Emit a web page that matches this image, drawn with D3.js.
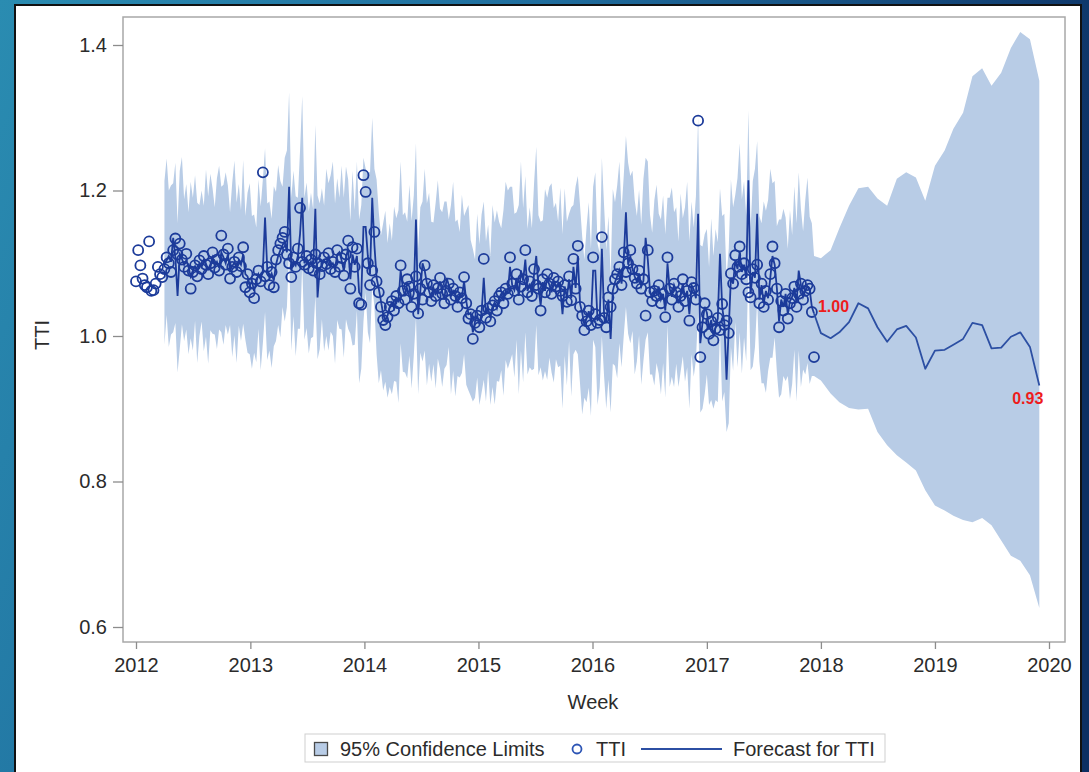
<!DOCTYPE html>
<html>
<head>
<meta charset="UTF-8" />
<title>TTI forecast</title>
<script src="https://d3js.org/d3.v7.min.js"></script>
<style>
  body { margin: 0; overflow: hidden; }
  text { font-family: "Liberation Sans", Arial, sans-serif; }
</style>
</head>
<body>
<div id="chart"></div>
<script>
// weekly TTI observations, first week of 2012 onwards
var tti = [
  1.075, 1.118, 1.097, 1.079, 1.070, 1.067, 1.130, 1.062, 1.063, 1.072,
  1.095, 1.085, 1.081, 1.092, 1.108, 1.100, 1.088, 1.118, 1.134, 1.112,
  1.127, 1.105, 1.095, 1.113, 1.090, 1.065, 1.088, 1.097, 1.082, 1.104,
  1.092, 1.110, 1.098, 1.085, 1.100, 1.115, 1.094, 1.105, 1.090, 1.138,
  1.112, 1.098, 1.120, 1.079, 1.095, 1.102, 1.088, 1.108, 1.096, 1.122,
  1.067, 1.085, 1.060, 1.072, 1.052, 1.078, 1.090, 1.075, 1.225, 1.082,
  1.095, 1.070, 1.088, 1.067, 1.105, 1.118, 1.127, 1.135, 1.143, 1.112,
  1.100, 1.081, 1.108, 1.095, 1.120, 1.176, 1.102, 1.098, 1.110, 1.093,
  1.105, 1.090, 1.112, 1.100, 1.085, 1.096, 1.108, 1.099, 1.114, 1.092,
  1.102, 1.088, 1.118, 1.095, 1.107, 1.083, 1.112, 1.131, 1.065, 1.122,
  1.095, 1.120, 1.045, 1.043, 1.221, 1.198, 1.100, 1.070, 1.090, 1.143,
  1.075, 1.060, 1.040, 1.022, 1.015, 1.026, 1.040, 1.048, 1.035, 1.055,
  1.045, 1.097, 1.062, 1.050, 1.078, 1.068, 1.040, 1.058, 1.082, 1.031,
  1.065, 1.050, 1.097, 1.072, 1.060, 1.048, 1.070, 1.055, 1.066, 1.080,
  1.058, 1.045, 1.062, 1.072, 1.050, 1.065, 1.055, 1.040, 1.060, 1.052,
  1.081, 1.045, 1.024, 1.030, 0.996, 1.018, 1.028, 1.012, 1.035, 1.106,
  1.025, 1.038, 1.020, 1.042, 1.048, 1.035, 1.055, 1.060, 1.045, 1.065,
  1.058, 1.108, 1.072, 1.062, 1.085, 1.050, 1.068, 1.078, 1.118, 1.060,
  1.075, 1.055, 1.092, 1.070, 1.065, 1.035, 1.078, 1.060, 1.085, 1.072,
  1.058, 1.080, 1.068, 1.075, 1.062, 1.055, 1.070, 1.047, 1.082, 1.049,
  1.106, 1.065, 1.124, 1.040, 1.028, 1.008, 1.020, 1.035, 1.015, 1.108,
  1.030, 1.018, 1.022, 1.136, 1.025, 1.012, 1.053, 1.040, 1.065, 1.078,
  1.085, 1.095, 1.070, 1.115, 1.088, 1.100, 1.118, 1.092, 1.080, 1.072,
  1.090, 1.065, 1.078, 1.028, 1.118, 1.060, 1.048, 1.062, 1.055, 1.070,
  1.045, 1.058, 1.026, 1.108, 1.065, 1.050, 1.072, 1.060, 1.040, 1.055,
  1.078, 1.048, 1.062, 1.021, 1.074, 1.066, 1.050, 1.296, 0.971, 1.012,
  1.045, 1.030, 1.003, 1.020, 0.994, 1.010, 1.025, 1.008, 1.044, 1.015,
  1.021, 1.004, 1.086, 1.072, 1.111, 1.095, 1.123, 1.085, 1.100, 1.078,
  1.060, 1.053, 1.092, 1.080, 1.098, 1.045, 1.072, 1.040, 1.062, 1.050,
  1.085, 1.123, 1.100, 1.065, 1.012, 1.048, 1.035, 1.058, 1.024, 1.045,
  1.052, 1.068, 1.040, 1.058, 1.072, 1.050, 1.062, 1.070, 1.065, 1.033, 0.971
];

// one-step-ahead predictions and 95% limits, from week 13 onwards
var bandStart = 13;
var pred = [
  1.098, 1.104, 1.110, 1.102, 1.135, 1.108, 1.055,
  1.112, 1.106, 1.098, 1.104, 1.095, 1.082, 1.090, 1.096, 1.088, 1.100,
  1.095, 1.104, 1.099, 1.092, 1.098, 1.108, 1.097, 1.102, 1.094, 1.115,
  1.108, 1.100, 1.112, 1.090, 1.096, 1.101, 1.093, 1.104, 1.098, 1.112,
  1.085, 1.082, 1.070, 1.075, 1.062, 1.074, 1.085, 1.078, 1.090, 1.163,
  1.092, 1.080, 1.086, 1.076, 1.098, 1.110, 1.118, 1.125, 1.130, 1.115,
  1.205, 1.090, 1.102, 1.097, 1.110, 1.140, 1.190, 1.100, 1.106, 1.096,
  1.102, 1.094, 1.175, 1.053, 1.092, 1.098, 1.104, 1.100, 1.110, 1.096,
  1.100, 1.092, 1.112, 1.115, 1.104, 1.090, 1.108, 1.120, 1.078, 1.112,
  1.098, 1.110, 1.060, 1.055, 1.150, 1.150, 1.110, 1.085, 1.190, 1.125,
  1.080, 1.065, 1.048, 1.030, 1.022, 1.028, 1.040, 1.046, 1.038, 1.052,
  1.048, 1.090, 1.066, 1.055, 1.072, 1.068, 1.048, 1.058, 1.160, 1.030,
  1.062, 1.100, 1.090, 1.072, 1.062, 1.052, 1.066, 1.058, 1.064, 1.075,
  1.060, 1.050, 1.080, 1.070, 1.055, 1.062, 1.057, 1.045, 1.058, 1.054,
  1.075, 1.048, 1.030, 1.032, 1.005, 1.020, 1.028, 1.016, 1.032, 1.080,
  1.030, 1.038, 1.025, 1.040, 1.046, 1.038, 1.052, 1.058, 1.048, 1.062,
  1.060, 1.095, 1.070, 1.063, 1.080, 1.055, 1.090, 1.076, 1.105, 1.062,
  1.072, 1.058, 1.085, 1.110, 1.066, 1.042, 1.074, 1.062, 1.080, 1.070,
  1.060, 1.076, 1.068, 1.072, 1.064, 1.030, 1.068, 1.052, 1.078, 1.052,
  1.095, 1.066, 1.110, 1.045, 1.032, 1.015, 1.024, 1.034, 1.020, 1.090,
  1.090, 1.022, 1.024, 1.120, 1.030, 1.018, 1.050, 0.996, 1.062, 1.074,
  1.082, 1.090, 1.072, 1.105, 1.170, 1.098, 1.110, 1.092, 1.082, 1.075,
  1.086, 1.068, 1.076, 1.135, 1.105, 1.062, 1.052, 1.062, 1.058, 1.068,
  1.050, 1.058, 1.035, 1.100, 1.065, 1.054, 1.070, 1.062, 1.045, 1.056,
  1.072, 1.052, 1.062, 1.030, 1.070, 1.064, 1.052, 1.168, 0.990, 1.018,
  1.040, 1.032, 1.010, 1.022, 1.000, 1.012, 1.024, 1.113, 1.040, 1.018,
  0.940, 1.010, 1.080, 1.072, 1.104, 1.092, 1.115, 1.088, 1.098, 1.080,
  1.214, 1.058, 1.088, 1.080, 1.168, 1.050, 1.070, 1.045, 1.062, 1.052,
  1.080, 1.110, 1.098, 1.066, 1.020, 1.050, 1.040, 1.058, 1.030, 1.048,
  1.054, 1.066, 1.045, 1.090, 1.070, 1.054, 1.062, 1.068, 1.064, 1.040, 1.031
];
var upper = [
  1.213, 1.244, 1.200, 1.207, 1.210, 1.238, 1.155,
  1.227, 1.246, 1.188, 1.209, 1.170, 1.212, 1.190, 1.221, 1.183, 1.180,
  1.200, 1.179, 1.229, 1.192, 1.223, 1.203, 1.177, 1.217, 1.234, 1.205,
  1.208, 1.225, 1.207, 1.170, 1.211, 1.241, 1.183, 1.209, 1.173, 1.242,
  1.165, 1.197, 1.210, 1.165, 1.167, 1.149, 1.215, 1.178, 1.215, 1.258,
  1.182, 1.185, 1.161, 1.206, 1.198, 1.235, 1.213, 1.205, 1.245, 1.255,
  1.335, 1.190, 1.227, 1.192, 1.190, 1.255, 1.330, 1.190, 1.211, 1.171,
  1.197, 1.174, 1.290, 1.193, 1.182, 1.203, 1.179, 1.230, 1.210, 1.221,
  1.240, 1.182, 1.217, 1.190, 1.234, 1.190, 1.233, 1.215, 1.158, 1.227,
  1.173, 1.240, 1.160, 1.180, 1.245, 1.230, 1.225, 1.225, 1.300, 1.230,
  1.215, 1.170, 1.138, 1.155, 1.172, 1.128, 1.155, 1.131, 1.178, 1.162,
  1.173, 1.240, 1.166, 1.170, 1.157, 1.208, 1.158, 1.193, 1.265, 1.120,
  1.177, 1.185, 1.230, 1.182, 1.197, 1.157, 1.156, 1.183, 1.214, 1.175,
  1.170, 1.185, 1.185, 1.160, 1.180, 1.212, 1.157, 1.160, 1.143, 1.194,
  1.165, 1.173, 1.180, 1.132, 1.120, 1.105, 1.168, 1.126, 1.167, 1.185,
  1.130, 1.153, 1.110, 1.180, 1.156, 1.173, 1.157, 1.148, 1.173, 1.212,
  1.200, 1.205, 1.205, 1.168, 1.170, 1.180, 1.240, 1.176, 1.220, 1.147,
  1.177, 1.148, 1.210, 1.260, 1.166, 1.157, 1.159, 1.202, 1.190, 1.205,
  1.210, 1.176, 1.183, 1.157, 1.204, 1.140, 1.203, 1.157, 1.168, 1.177,
  1.180, 1.206, 1.220, 1.180, 1.137, 1.105, 1.149, 1.184, 1.120, 1.205,
  1.225, 1.127, 1.114, 1.245, 1.180, 1.118, 1.165, 1.081, 1.202, 1.184,
  1.207, 1.240, 1.172, 1.220, 1.275, 1.238, 1.220, 1.227, 1.187, 1.165,
  1.201, 1.153, 1.216, 1.245, 1.240, 1.167, 1.142, 1.187, 1.208, 1.168,
  1.160, 1.193, 1.140, 1.190, 1.190, 1.204, 1.170, 1.177, 1.130, 1.196,
  1.162, 1.177, 1.212, 1.130, 1.185, 1.149, 1.192, 1.300, 1.125, 1.123,
  1.140, 1.147, 1.095, 1.162, 1.110, 1.147, 1.129, 1.203, 1.165, 1.168,
  1.080, 1.120, 1.215, 1.177, 1.194, 1.217, 1.265, 1.188, 1.213, 1.165,
  1.310, 1.148, 1.213, 1.230, 1.268, 1.165, 1.155, 1.185, 1.172, 1.187,
  1.230, 1.210, 1.213, 1.151, 1.160, 1.160, 1.175, 1.163, 1.120, 1.173,
  1.139, 1.206, 1.155, 1.225, 1.175, 1.144, 1.187, 1.218, 1.164, 1.155, 1.110
];
var lower = [
  0.988, 1.029, 0.985, 1.002, 1.005, 1.018, 0.950,
  0.982, 1.016, 0.993, 1.009, 0.975, 0.997, 0.980, 1.021, 0.963, 1.000,
  1.020, 0.979, 0.999, 0.962, 1.008, 1.003, 1.002, 0.982, 1.009, 1.005,
  0.988, 1.015, 1.002, 1.015, 0.971, 1.001, 0.963, 1.014, 0.993, 1.017,
  0.995, 0.977, 0.975, 0.955, 0.977, 0.964, 1.010, 0.953, 0.990, 1.033,
  0.967, 0.980, 0.956, 0.986, 0.993, 1.015, 0.998, 1.040, 1.020, 1.040,
  1.120, 0.980, 1.027, 0.972, 1.010, 1.010, 1.100, 0.995, 1.011, 0.976,
  0.997, 0.999, 1.055, 0.968, 0.982, 1.023, 0.979, 1.000, 0.980, 1.006,
  1.000, 0.962, 1.022, 1.010, 1.009, 0.970, 1.023, 1.010, 1.003, 0.987,
  0.988, 1.035, 0.935, 0.955, 1.020, 1.060, 1.005, 0.990, 1.070, 1.040,
  0.975, 0.935, 0.953, 0.925, 0.937, 0.915, 0.930, 0.920, 0.938, 0.937,
  0.908, 0.990, 0.951, 0.950, 0.942, 0.973, 0.928, 0.973, 1.025, 0.920,
  0.977, 0.965, 0.980, 0.932, 0.962, 0.937, 0.961, 0.928, 0.969, 0.955,
  0.930, 0.955, 0.960, 0.985, 0.920, 0.952, 0.917, 0.945, 0.943, 0.949,
  0.975, 0.933, 0.925, 0.918, 0.910, 0.915, 0.943, 0.905, 0.922, 0.940,
  0.910, 0.953, 0.905, 0.930, 0.906, 0.938, 0.937, 0.953, 0.918, 0.967,
  0.955, 0.965, 0.975, 0.943, 0.995, 0.920, 0.980, 0.936, 1.005, 0.947,
  0.957, 0.953, 0.955, 1.015, 0.946, 0.957, 0.939, 0.952, 0.940, 0.970,
  0.950, 0.936, 0.968, 0.957, 0.959, 0.900, 0.973, 0.932, 0.993, 0.917,
  0.975, 0.981, 0.975, 0.935, 0.892, 0.915, 0.909, 0.929, 0.890, 0.995,
  0.985, 0.905, 0.929, 1.000, 0.945, 0.900, 0.940, 0.895, 0.962, 0.959,
  0.942, 0.990, 0.957, 1.000, 1.040, 1.003, 0.990, 1.007, 0.947, 0.965,
  1.001, 0.933, 0.966, 0.995, 1.005, 0.947, 0.947, 0.932, 0.963, 0.948,
  0.920, 0.963, 0.915, 1.015, 0.930, 0.944, 0.930, 0.962, 0.930, 0.951,
  0.972, 0.937, 0.957, 0.900, 0.975, 0.944, 0.967, 1.033, 0.895, 0.900,
  0.920, 0.947, 0.905, 0.912, 0.900, 0.912, 0.909, 1.008, 0.910, 0.923,
  0.868, 0.880, 0.985, 0.952, 1.019, 0.957, 1.005, 0.948, 0.998, 0.965,
  1.099, 0.953, 0.958, 0.985, 1.048, 0.965, 0.935, 0.935, 0.922, 0.952,
  0.970, 0.970, 0.998, 0.951, 0.915, 0.920, 0.945, 0.938, 0.945, 0.913,
  0.934, 0.981, 0.910, 0.980, 0.930, 0.954, 0.947, 0.963, 0.934, 0.945, 0.945
];

// monthly forecast, Jan 2018 - Dec 2019
var fcValue = [1.004, 0.997, 1.005, 1.019, 1.045, 1.038, 1.012, 0.992, 1.009, 1.014, 0.998, 0.955,
               0.980, 0.981, 0.988, 0.996, 1.018, 1.015, 0.983, 0.984, 0.999, 1.005, 0.985, 0.932];
var fcUpper = [1.107, 1.118, 1.148, 1.179, 1.203, 1.205, 1.189, 1.179, 1.216, 1.225, 1.218, 1.186,
               1.234, 1.255, 1.285, 1.307, 1.357, 1.368, 1.344, 1.362, 1.396, 1.418, 1.408, 1.351];
var fcLower = [0.939, 0.921, 0.909, 0.901, 0.899, 0.900, 0.868, 0.850, 0.836, 0.826, 0.815, 0.788,
               0.767, 0.760, 0.753, 0.747, 0.744, 0.750, 0.740, 0.719, 0.698, 0.691, 0.671, 0.626];

var yearTicks = [2012, 2013, 2014, 2015, 2016, 2017, 2018, 2019, 2020];
var yTicks = [0.6, 0.8, 1.0, 1.2, 1.4];
var legendLabels = ["95% Confidence Limits", "TTI", "Forecast for TTI"];

var bandColor = "#b8cce6";
var markColor = "#1c3b9a";
var lineColor = "#2c4fa3";

var W = 1089, H = 772;
var svg = d3.select("#chart").append("svg")
  .attr("width", W).attr("height", H);

// slide background + white panel
var grad = svg.append("defs").append("linearGradient")
  .attr("id", "bg").attr("x1", "0%").attr("x2", "100%").attr("y1", "0%").attr("y2", "30%");
grad.append("stop").attr("offset", "0%").attr("stop-color", "#2a8cb1");
grad.append("stop").attr("offset", "45%").attr("stop-color", "#1f6e9e");
grad.append("stop").attr("offset", "100%").attr("stop-color", "#0c2f63");
svg.append("rect").attr("width", W).attr("height", H).attr("fill", "url(#bg)");
svg.append("rect").attr("x", 15).attr("y", 5).attr("width", 1066).attr("height", H)
  .attr("fill", "#fff").attr("stroke", "#111").attr("stroke-width", 2);

// frame of plot area
var frame = { left: 123, top: 17, right: 1065, bottom: 642 };

var x = d3.scaleTime()
  .domain([new Date(2012, 0, 1), new Date(2020, 0, 1)])
  .range([136, 1049]);
var y = d3.scaleLinear().domain([0.6, 1.4]).range([627, 45]);

var start = new Date(2012, 0, 1);
var obs = tti.map((v, i) => ({ date: d3.timeWeek.offset(start, i), value: v }));

var hist = pred.map((v, i) => ({
  date: d3.timeWeek.offset(start, bandStart + i), value: v, lo: lower[i], hi: upper[i]
}));
var months = d3.timeMonth.range(new Date(2018, 0, 1), new Date(2020, 0, 1));
var fc = fcValue.map((v, i) => ({ date: months[i], value: v, lo: fcLower[i], hi: fcUpper[i] }));
var series = hist.concat(fc);

// confidence band
svg.append("path")
  .datum(series)
  .attr("fill", bandColor)
  .attr("d", d3.area()
    .x((d) => x(d.date))
    .y0((d) => y(d.lo))
    .y1((d) => y(d.hi)));

// one-step-ahead prediction line
svg.append("path")
  .datum(hist)
  .attr("fill", "none")
  .attr("stroke", markColor)
  .attr("stroke-width", 1.8)
  .attr("d", d3.line().x((d) => x(d.date)).y((d) => y(d.value)));

// observed TTI
svg.append("g").selectAll("circle")
  .data(obs)
  .enter().append("circle")
  .attr("cx", (d) => x(d.date))
  .attr("cy", (d) => y(d.value))
  .attr("r", 5)
  .attr("fill", "none")
  .attr("stroke", markColor)
  .attr("stroke-width", 1.8);

// forecast line
svg.append("path")
  .datum([hist[hist.length - 1]].concat(fc))
  .attr("fill", "none")
  .attr("stroke", lineColor)
  .attr("stroke-width", 1.8)
  .attr("stroke-linejoin", "round")
  .attr("d", d3.line().x((d) => x(d.date)).y((d) => y(d.value)));

// value labels at start and end of forecast
var first = fc[0], last = fc[fc.length - 1];
svg.append("text")
  .attr("x", x(first.date) - 3).attr("y", y(first.value) - 21)
  .attr("fill", "#ee1c1c").attr("font-weight", "bold").attr("font-size", 16)
  .text(first.value.toFixed(2));
svg.append("text")
  .attr("x", x(last.date) + 4).attr("y", y(last.value) + 19)
  .attr("text-anchor", "end")
  .attr("fill", "#ee1c1c").attr("font-weight", "bold").attr("font-size", 16)
  .text(last.value.toFixed(2));

// frame
svg.append("rect")
  .attr("x", frame.left).attr("y", frame.top)
  .attr("width", frame.right - frame.left).attr("height", frame.bottom - frame.top)
  .attr("fill", "none").attr("stroke", "#a8a8a8").attr("stroke-width", 1.5);

// axes
var xAxis = svg.append("g")
  .attr("transform", "translate(0," + frame.bottom + ")")
  .call(d3.axisBottom(x)
    .tickValues(yearTicks.map((yr) => new Date(yr, 0, 1)))
    .tickFormat(d3.timeFormat("%Y"))
    .tickSize(7).tickPadding(9));
xAxis.select(".domain").remove();

var yAxis = svg.append("g")
  .attr("transform", "translate(" + frame.left + ",0)")
  .call(d3.axisLeft(y).tickValues(yTicks).tickFormat(d3.format(".1f"))
    .tickSize(10).tickPadding(6));
yAxis.select(".domain").remove();

svg.selectAll(".tick line").attr("stroke", "#8c8c8c").attr("stroke-width", 1.3);
svg.selectAll(".tick text")
  .attr("fill", "#2b2b2b")
  .style("font-size", "20px")
  .style("font-family", "'Liberation Sans', Arial, sans-serif");

// axis titles
svg.append("text")
  .attr("x", 593).attr("y", 709)
  .attr("text-anchor", "middle").attr("font-size", 20).attr("fill", "#2b2b2b")
  .text("Week");
svg.append("text")
  .attr("transform", "translate(49,335) rotate(-90)")
  .attr("text-anchor", "middle").attr("font-size", 20).attr("fill", "#2b2b2b")
  .text("TTI");

// legend
var leg = svg.append("g");
leg.append("rect")
  .attr("x", 305).attr("y", 734).attr("width", 580).attr("height", 28)
  .attr("fill", "#fff").attr("stroke", "#cfcfcf");
leg.append("rect")
  .attr("x", 314.5).attr("y", 742.5).attr("width", 13).attr("height", 13)
  .attr("fill", bandColor).attr("stroke", "#4a4a4a").attr("stroke-width", 1.3);
leg.append("text").attr("x", 340).attr("y", 756).attr("font-size", 20).attr("fill", "#2b2b2b")
  .text(legendLabels[0]);
leg.append("circle").attr("cx", 577).attr("cy", 749).attr("r", 4.5)
  .attr("fill", "none").attr("stroke", "#2d55b5").attr("stroke-width", 1.8);
leg.append("text").attr("x", 596).attr("y", 756).attr("font-size", 20).attr("fill", "#2b2b2b")
  .text(legendLabels[1]);
leg.append("line").attr("x1", 641).attr("x2", 722).attr("y1", 749).attr("y2", 749)
  .attr("stroke", lineColor).attr("stroke-width", 1.8);
leg.append("text").attr("x", 733).attr("y", 756).attr("font-size", 20).attr("fill", "#2b2b2b")
  .text(legendLabels[2]);
</script>
</body>
</html>
